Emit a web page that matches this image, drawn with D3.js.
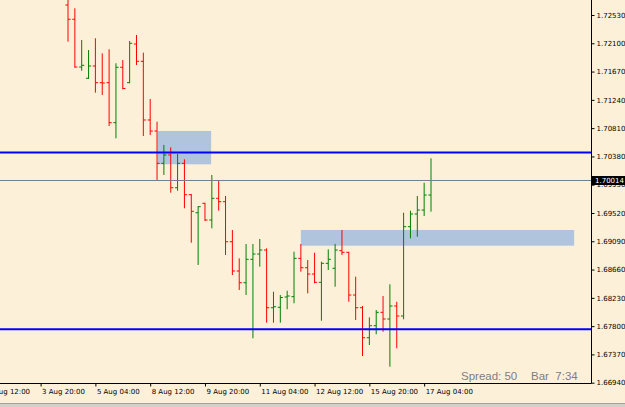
<!DOCTYPE html>
<html>
<head>
<meta charset="utf-8">
<script src="https://cdn.jsdelivr.net/npm/d3@7/dist/d3.min.js"></script>
<style>
  html, body { margin: 0; padding: 0; background: #fdf0d9; }
  svg { display: block; }
  .axis text { font-family: "DejaVu Sans", Tahoma, sans-serif; font-size: 7px; fill: #000; }
</style>
</head>
<body>
<svg id="chart" width="625" height="407"></svg>
<script>
// ─── Data (H4 bars) ────────────────────────────
const barOpen  = [1.72682,1.72465,1.71739,1.71568,1.71755,1.71501,1.71501,1.70893,1.71735,1.71501,
                  1.72089,1.71826,1.70934,1.70766,1.70275,1.70402,1.69904,1.70275,1.69798,1.69524,
                  1.69667,1.69413,1.69743,1.69692,1.69083,1.68638,1.68460,1.68816,1.68896,1.68957,
                  1.68080,1.68086,1.68243,1.68248,1.68831,1.68688,1.68592,1.68466,1.68755,1.68679,
                  1.68947,1.68922,1.68273,1.68080,1.67624,1.67806,1.68010,1.67908,1.68106,1.67954,
                  1.69312,1.69505,1.69565,1.69793];
const barHigh  = [1.72910,1.72632,1.72150,1.71998,1.72176,1.71948,1.72009,1.71796,1.71846,1.72135,
                  1.72226,1.71957,1.71253,1.70908,1.70554,1.70519,1.70417,1.70336,1.69809,1.69626,
                  1.69676,1.70098,1.70022,1.69778,1.69261,1.68831,1.69049,1.69049,1.69125,1.68983,
                  1.68323,1.68273,1.68339,1.68931,1.69049,1.68805,1.68916,1.68779,1.68968,1.69049,
                  1.69261,1.68931,1.68551,1.68106,1.67934,1.68045,1.68258,1.68436,1.68171,1.69524,
                  1.69555,1.69778,1.69980,1.70351];
const barLow   = [1.72124,1.71729,1.71683,1.71557,1.71349,1.71314,1.70842,1.70655,1.71400,1.71492,
                  1.71770,1.70690,1.70706,1.70022,1.70098,1.69828,1.69859,1.69591,1.69068,1.68729,
                  1.69398,1.69287,1.69555,1.68881,1.68577,1.68349,1.68273,1.67615,1.68703,1.67852,
                  1.67852,1.67852,1.68056,1.68147,1.68627,1.68299,1.68451,1.67882,1.68653,1.68399,
                  1.68881,1.68171,1.67893,1.67346,1.67513,1.67676,1.67715,1.67183,1.67463,1.67904,
                  1.69135,1.69159,1.69474,1.69540];
const barClose = [1.72465,1.71739,1.71765,1.71755,1.71501,1.71496,1.70893,1.71735,1.71413,1.72100,
                  1.71826,1.70934,1.70766,1.70275,1.70402,1.69904,1.70275,1.69798,1.69546,1.69616,
                  1.69413,1.69743,1.69692,1.69083,1.68638,1.68460,1.68816,1.68896,1.68957,1.68080,
                  1.68095,1.68235,1.68258,1.68831,1.68688,1.68592,1.68466,1.68755,1.68816,1.68957,
                  1.68922,1.68273,1.68080,1.67624,1.67806,1.68010,1.67908,1.68106,1.67954,1.69312,
                  1.69505,1.69565,1.69793,1.70014];

const priceTicks = [1.72530,1.72100,1.71670,1.71240,1.70810,1.70380,1.69950,
                    1.69520,1.69090,1.68660,1.68230,1.67800,1.67370,1.66940];
const timeTickBars   = [-12, -4, 4, 12, 20, 28, 36, 44, 52];
const timeTickLabels = ["2 Aug 12:00","3 Aug 20:00","5 Aug 04:00","8 Aug 12:00","9 Aug 20:00",
                        "11 Aug 04:00","12 Aug 12:00","15 Aug 20:00","17 Aug 04:00"];

const levelLines   = [1.70440, 1.67752];
const currentPrice = 1.70014;
// zones: [fromBar, toBar, topPrice, bottomPrice]
const zoneFrom = [13.1, 34.0], zoneTo = [20.9, 73.9];
const zoneTop  = [1.70767, 1.69262], zoneBot = [1.70260, 1.69023];

const spreadText = "Spread: 50", barText = "Bar  7:34";

// ─── Layout ────────────────────────────────────
const W = 625, H = 407, plotR = 591.5, plotB = 383.5;
const svg = d3.select('#chart');

const x = d3.scaleLinear().domain([0, 53]).range([68, 431]);
const y = d3.scaleLinear().domain([1.66940, 1.72530]).range([382.7, 15]);

svg.append('rect').attr('width', W).attr('height', H).attr('fill', '#fdf0d9');

svg.append('defs').append('clipPath').attr('id', 'plot')
  .append('rect').attr('x', 0).attr('y', 0).attr('width', plotR).attr('height', plotB);

const g = svg.append('g').attr('clip-path', 'url(#plot)');

// zones (background rectangles)
g.selectAll('.zone').data(zoneFrom).enter().append('rect')
  .attr('x', (d, i) => x(d))
  .attr('y', (d, i) => y(zoneTop[i]))
  .attr('width', (d, i) => x(zoneTo[i]) - x(d))
  .attr('height', (d, i) => y(zoneBot[i]) - y(zoneTop[i]))
  .attr('fill', '#b0c4de');

// OHLC bars
const bars = g.selectAll('.bar').data(barOpen).enter().append('g')
  .attr('stroke', (d, i) => barClose[i] >= d ? '#008000' : '#ff0000')
  .attr('stroke-width', 1);

bars.append('line')
  .attr('x1', (d, i) => x(i)).attr('x2', (d, i) => x(i))
  .attr('y1', (d, i) => y(barHigh[i])).attr('y2', (d, i) => y(barLow[i]));
bars.append('line')
  .attr('x1', (d, i) => x(i) - 2.6).attr('x2', (d, i) => x(i))
  .attr('y1', d => y(d)).attr('y2', d => y(d));
bars.append('line')
  .attr('x1', (d, i) => x(i)).attr('x2', (d, i) => x(i) + 2.6)
  .attr('y1', (d, i) => y(barClose[i])).attr('y2', (d, i) => y(barClose[i]));

// horizontal levels
g.selectAll('.level').data(levelLines).enter().append('line')
  .attr('x1', 0).attr('x2', plotR)
  .attr('y1', d => y(d)).attr('y2', d => y(d))
  .attr('stroke', '#0000ff').attr('stroke-width', 2);

g.append('line')
  .attr('x1', 0).attr('x2', plotR)
  .attr('y1', y(currentPrice)).attr('y2', y(currentPrice))
  .attr('stroke', '#708090').attr('stroke-width', 1);

// info text
g.append('text').attr('x', 461).attr('y', 380).text(spreadText)
  .attr('font-family', 'Liberation Sans, Arial, sans-serif').attr('font-size', 11.5)
  .attr('fill', '#7d7d86');
g.append('text').attr('x', 531).attr('y', 380).text(barText)
  .attr('font-family', 'Liberation Sans, Arial, sans-serif').attr('font-size', 11.5)
  .attr('fill', '#7d7d86').style('white-space', 'pre');

// ─── Axes ──────────────────────────────────────
const yAxis = svg.append('g').attr('class', 'axis')
  .attr('transform', `translate(${plotR},0)`)
  .call(d3.axisRight(y).tickValues(priceTicks).tickFormat(d3.format('.5f'))
    .tickSize(3).tickPadding(2));
yAxis.select('.domain').attr('d', `M0,0V${plotB}`).attr('stroke', '#000');

const xAxis = svg.append('g').attr('class', 'axis')
  .attr('transform', `translate(0,${plotB})`)
  .call(d3.axisBottom(x).tickValues(timeTickBars)
    .tickFormat((d, i) => timeTickLabels[i]).tickSize(3));
xAxis.select('.domain').attr('d', `M0,0H${plotR}`).attr('stroke', '#000');
xAxis.selectAll('.tick text').attr('text-anchor', 'start').attr('x', 1).attr('y', 5.5);

// current price marker
svg.append('rect').attr('x', plotR).attr('y', y(currentPrice) - 4.5)
  .attr('width', W - plotR).attr('height', 9).attr('fill', '#000');
svg.append('text')
  .attr('x', plotR + 3.5).attr('y', y(currentPrice)).attr('dy', '0.32em')
  .attr('font-family', '"DejaVu Sans", Tahoma, sans-serif').attr('font-size', 7)
  .attr('fill', '#fff').text(d3.format('.5f')(currentPrice));

// bottom window edge
svg.append('rect').attr('x', 0).attr('y', 403).attr('width', W).attr('height', 4).attr('fill', '#d4d0c8');
svg.append('line').attr('x1', 0).attr('x2', W).attr('y1', 403.5).attr('y2', 403.5)
  .attr('stroke', '#a0a0a0');
</script>
</body>
</html>
